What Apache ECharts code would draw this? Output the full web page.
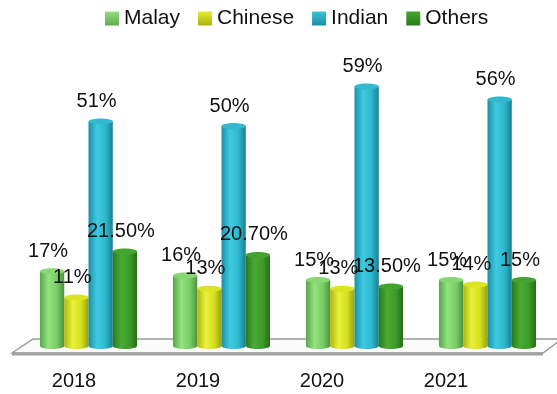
<!DOCTYPE html>
<html>
<head>
<meta charset="utf-8">
<script src="https://cdn.jsdelivr.net/npm/echarts@6/dist/echarts.min.js"></script>
<style>
  html, body { margin: 0; padding: 0; background: #ffffff; }
  #chart { width: 557px; height: 394px; }
</style>
</head>
<body>
<div id="chart"></div>
<script>
// Share of each group per year (%)
const categories = ['2018', '2019', '2020', '2021'];
const seriesNames = ['Malay', 'Chinese', 'Indian', 'Others'];
const malay = [17, 16, 15, 15];
const chinese = [11, 13, 13, 14];
const indian = [51, 50, 59, 56];
const others = [21.5, 20.7, 13.5, 15];

const FONT = '"Liberation Sans", Arial, sans-serif';

// Cylinder shading per group: body gradient stops, cap colour, legend swatch
const palette = [
  { body: ['#5aa64a', '#92e27e', '#7acd66', '#4b933c'], cap: '#86d872', swatch: ['#92e07e', '#5faa4d'] },
  { body: ['#aeb60c', '#e9f23c', '#d5df1e', '#9aa20a'], cap: '#dbe424', swatch: ['#e4ec30', '#aab20c'] },
  { body: ['#1d8fa4', '#3dcbe1', '#2fb7ce', '#187f92'], cap: '#32b9d0', swatch: ['#38c4da', '#1c8ea2'] },
  { body: ['#2a7a1b', '#4aab34', '#3d9a29', '#276c17'], cap: '#43a32f', swatch: ['#45a530', '#2a7a1b'] }
];

function fmt(v) {
  return (v % 1 === 0 ? v : v.toFixed(2)) + '%';
}

function makeRender(idx) {
  const p = palette[idx];
  return function (params, api) {
    const ci = api.value(0);
    const v = api.value(1);
    const top = api.coord([ci, v]);
    const base = api.coord([ci, 0]);
    const band = api.size([1, 0])[0];
    const groupW = band * 0.73;
    const bw = groupW / 4;
    const x = top[0] - groupW / 2 + idx * bw;
    const cx = x + bw / 2;
    const ry = 3;
    const grad = new echarts.graphic.LinearGradient(0, 0, 1, 0, [
      { offset: 0, color: p.body[0] },
      { offset: 0.35, color: p.body[1] },
      { offset: 0.7, color: p.body[2] },
      { offset: 1, color: p.body[3] }
    ]);
    return {
      type: 'group',
      children: [
        { type: 'ellipse', shape: { cx: cx, cy: base[1], rx: bw / 2, ry: ry }, style: { fill: grad } },
        { type: 'rect', shape: { x: x, y: top[1], width: bw, height: base[1] - top[1] }, style: { fill: grad } },
        { type: 'ellipse', shape: { cx: cx, cy: top[1], rx: bw / 2, ry: ry }, style: { fill: p.cap } },
        {
          type: 'text', z2: 10,
          style: {
            text: fmt(v), x: cx - 4, y: top[1] - 10,
            align: 'center', verticalAlign: 'bottom',
            fontSize: 20, fontFamily: FONT, fill: '#111'
          }
        }
      ]
    };
  };
}

const dataSets = [malay, chinese, indian, others];

const chart = echarts.init(document.getElementById('chart'), null, { renderer: 'canvas' });

const option = {
  backgroundColor: '#ffffff',
  animation: false,
  legend: {
    top: 3,
    left: 100,
    itemWidth: 14,
    itemHeight: 14,
    itemGap: 18,
    icon: 'rect',
    textStyle: { fontSize: 21, fontFamily: FONT, color: '#111' },
    data: seriesNames
  },
  grid: [
    { left: 22, right: 3, top: 38, bottom: 48 },
    { left: 12, right: 49, bottom: 34, height: 10 }
  ],
  xAxis: [
    { type: 'category', data: categories, gridIndex: 0, show: false, boundaryGap: true },
    {
      type: 'category', data: categories, gridIndex: 1, boundaryGap: true,
      axisLine: { show: false }, axisTick: { show: false }, splitLine: { show: false },
      axisLabel: { margin: 11, fontSize: 20, fontFamily: FONT, color: '#111' }
    }
  ],
  yAxis: [
    { type: 'value', gridIndex: 0, min: 0, max: 70, show: false },
    { type: 'value', gridIndex: 1, show: false }
  ],
  graphic: [
    {
      // floor plane under the cylinders
      type: 'polygon', z: 0,
      shape: { points: [[12, 353], [33, 339], [562, 339], [543, 353]] },
      style: { fill: '#fbfbfb', stroke: '#9a9a9a', lineWidth: 1.5 }
    },
    {
      type: 'line', z: 0,
      shape: { x1: 12, y1: 354, x2: 543, y2: 354 },
      style: { stroke: '#a0a0a0', lineWidth: 3 }
    }
  ],
  series: dataSets.map(function (arr, idx) {
    const sw = palette[idx].swatch;
    return {
      name: seriesNames[idx],
      type: 'custom',
      xAxisIndex: 0,
      yAxisIndex: 0,
      z: 2,
      itemStyle: {
        color: new echarts.graphic.LinearGradient(0, 0, 0, 1, [
          { offset: 0, color: sw[0] },
          { offset: 1, color: sw[1] }
        ])
      },
      renderItem: makeRender(idx),
      encode: { x: 0, y: 1 },
      data: arr.map(function (v, i) { return [i, v]; })
    };
  })
};

chart.setOption(option);
</script>
</body>
</html>
